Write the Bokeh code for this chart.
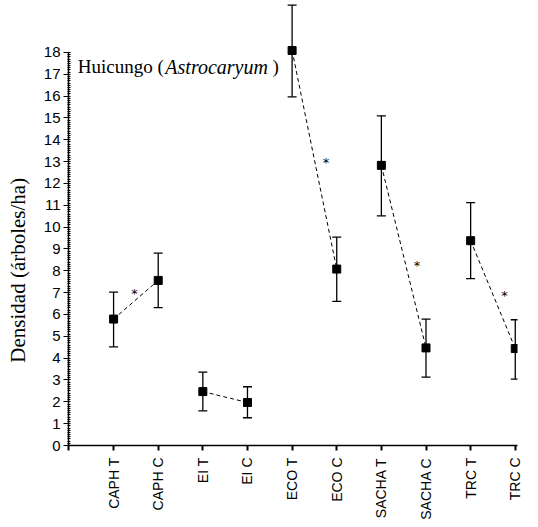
import math
from bokeh.plotting import figure
from bokeh.models import (ColumnDataSource, Whisker, TeeHead, FixedTicker, Label, Range1d)
from bokeh.core.properties import value
from bokeh.embed import file_html
from bokeh.resources import INLINE

categories = ["CAPH T", "CAPH C", "EI T", "EI C", "ECO T", "ECO C",
              "SACHA T", "SACHA C", "TRC T", "TRC C"]
means = [5.79, 7.56, 2.47, 1.97, 18.09, 8.08, 12.83, 4.47, 9.38, 4.44]
upper = [7.02, 8.81, 3.36, 2.69, 20.17, 9.54, 15.10, 5.79, 11.12, 5.76]
lower = [4.52, 6.31, 1.59, 1.27, 15.97, 6.60, 10.52, 3.13, 7.64, 3.04]
star_x = [1.47, 5.76, 7.80, 9.76]
star_y = [7.10, 13.09, 8.40, 7.00]
y_ticks = list(range(0, 19))

xs = list(range(1, len(categories) + 1))

p = figure(width=538, height=527, output_backend="svg", toolbar_location=None,
           x_range=Range1d(-0.01, 10.05), y_range=Range1d(0, 20.38),
           min_border_left=68, min_border_right=21, min_border_top=0,
           min_border_bottom=82)
p.outline_line_color = None
p.xgrid.visible = False
p.ygrid.visible = False
p.background_fill_color = "white"
p.border_fill_color = "white"

src = ColumnDataSource(dict(x=xs, m=means, up=upper, lo=lower))

# dashed connectors between pairs
px = [[xs[i], xs[i + 1]] for i in range(0, len(xs), 2)]
py = [[means[i], means[i + 1]] for i in range(0, len(xs), 2)]
p.multi_line(px, py, line_color="black", line_dash="4 3", line_width=1)

w = Whisker(source=src, base="x", upper="up", lower="lo", line_color="black",
            line_width=1.3,
            upper_head=TeeHead(size=9, line_color="black", line_width=1.3),
            lower_head=TeeHead(size=9, line_color="black", line_width=1.3))
p.add_layout(w)

p.scatter("x", "m", source=src, marker="square", size=8, color="black")

p.text(star_x, star_y, text=["*"] * len(star_x), text_font=value("DejaVu Sans"),
       text_font_size="13px", text_align="center", text_baseline="middle",
       y_offset=3, text_color="black")

# axes
xa = p.xaxis[0]
xa.ticker = FixedTicker(ticks=[0] + xs)
xa.major_label_overrides = {0: ""}
xa.major_label_overrides.update({x: c for x, c in zip(xs, categories)})
xa.major_label_orientation = math.pi / 2
xa.major_label_text_font = "Liberation Sans"
xa.major_label_text_font_size = "14px"
xa.major_label_text_color = "black"
xa.major_tick_in = 0
xa.major_tick_out = 5
xa.major_tick_line_width = 2
xa.minor_tick_line_color = None
xa.axis_line_color = "black"
xa.axis_line_width = 1.5
xa.major_label_standoff = 7
xa.bounds = (0, 10.05)

ya = p.yaxis[0]
ya.ticker = FixedTicker(ticks=y_ticks, minor_ticks=[i / 10 for i in range(0, 181)])
ya.major_label_text_font = "Liberation Sans"
ya.major_label_text_font_size = "15px"
ya.major_label_text_color = "black"
ya.major_tick_in = 0
ya.major_tick_out = 5
ya.minor_tick_in = 2
ya.minor_tick_out = 1
ya.minor_tick_line_color = "black"
ya.axis_line_color = "black"
ya.axis_line_width = 1.5
ya.major_label_standoff = 3
ya.bounds = (0, 18)
ya.axis_label = "Densidad (árboles/ha)" + "\u00a0" * 18
ya.axis_label_text_font = "Liberation Serif"
ya.axis_label_text_font_size = "21px"
ya.axis_label_text_font_style = "normal"
ya.axis_label_text_color = "black"
ya.axis_label_standoff = 11

# title
p.add_layout(Label(x=0.2, y=17.34, text="Huicungo (", text_font="Liberation Serif",
                   text_font_size="19px", text_baseline="alphabetic", text_color="black"))
p.add_layout(Label(x=2.16, y=17.34, text="Astrocaryum", text_font="Liberation Serif",
                   text_font_style="italic", text_font_size="20px",
                   text_baseline="alphabetic", text_color="black"))
p.add_layout(Label(x=4.56, y=17.34, text=")", text_font="Liberation Serif",
                   text_font_size="19px", text_baseline="alphabetic", text_color="black"))

open("out.html", "w").write(file_html(p, INLINE))
